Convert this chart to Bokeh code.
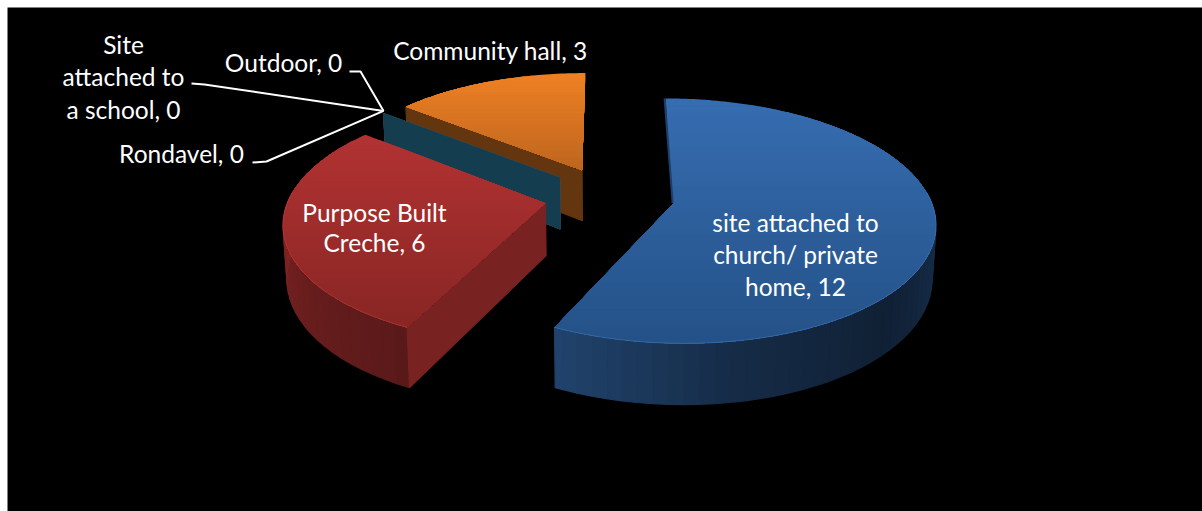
import math
import numpy as np
from bokeh.plotting import figure
from bokeh.models import Range1d
from bokeh.core.properties import value
from bokeh.embed import file_html
from bokeh.resources import INLINE

# ---- data ----
categories = ["site attached to church/ private home", "Purpose Built Creche",
              "Site attached to a school", "Outdoor", "Rondavel", "Community hall"]
values = [12, 6, 0, 0, 0, 3]
base_colors = [(54, 108, 176), (178, 50, 50), (120, 150, 60), (100, 75, 130), (20, 62, 80), (238, 128, 36)]
bottom_colors = [(36, 82, 136), (136, 38, 36), (90, 110, 45), (75, 55, 100), (20, 62, 80), (190, 102, 30)]
label_lines = [["site attached to", "church/ private", "home, 12"], ["Purpose Built", "Creche, 6"],
               ["Site", "attached to", "a school, 0"], ["Outdoor, 0"], ["Rondavel, 0"], ["Community hall, 3"]]

# ---- layout ----
W, H = 1202, 511
X0, Y0 = 609.0, 196.0      # screen position of pie centre
A, B, K = 256.0, 118.0, 1 / 7   # perspective scale
EXPLODE = 0.255
DEPTH = 52.0
LEAN = 0.012


def project(u, v):
    w = 1 + K * v
    return X0 + A * u / w, Y0 - B * v / w


def drop(x, y, v):
    w = 1 + K * v
    return x + (X0 - x) * LEAN, y + DEPTH / w


total = sum(values)
starts = np.cumsum([0] + values[:-1]) / total * 360
ends = np.cumsum(values) / total * 360


def rgb(c):
    return "#%02x%02x%02x" % tuple(int(max(0, min(255, round(a)))) for a in c)


def clip_below(pts, y0):
    """Keep the part of a polygon at screen y >= y0."""
    out = []
    n = len(pts)
    for i in range(n):
        a, b = pts[i], pts[(i + 1) % n]
        ina, inb = a[1] >= y0, b[1] >= y0
        if ina:
            out.append(a)
        if ina != inb:
            t = (y0 - a[1]) / (b[1] - a[1])
            out.append((a[0] + t * (b[0] - a[0]), y0))
    return out


def apex_of(i):
    mid = math.radians((starts[i] + ends[i]) / 2)
    return EXPLODE * math.sin(mid), EXPLODE * math.cos(mid)


def rim(i, th):
    au, av = apex_of(i)
    r = math.radians(th)
    return au + math.sin(r), av + math.cos(r)


p = figure(width=W, height=H, output_backend="svg", toolbar_location=None,
           x_range=Range1d(0, W), y_range=Range1d(H, 0),
           background_fill_color="white", border_fill_color="white",
           min_border=0, outline_line_color=None)
p.xaxis.visible = False
p.yaxis.visible = False
p.grid.visible = False

# dark panel
p.quad(left=[7], right=[W], top=[7], bottom=[H], fill_color="black", line_color=None)

rim_shades = {0: ([60, 100, 135, 170, 206], [0.62, 0.42, 0.30, 0.40, 0.62]),
              1: ([205, 240, 270], [0.50, 0.60, 0.72])}
radial_shade = {1: 0.68, 2: 0.8, 3: 0.8, 4: 1.0, 5: 0.42}


def draw_slice(i):
    base = np.array(base_colors[i], float)
    bot = np.array(bottom_colors[i], float)
    s, e = starts[i], ends[i]
    au, av = apex_of(i)
    ax, ay = project(au, av)
    xs, ys = [], []
    cols = []
    # outer rim wall
    if e > s:
        th = np.arange(s, e + 3, 3.0)
        th[-1] = e
        for a, b in zip(th[:-1], th[1:]):
            if math.cos(math.radians((a + b) / 2)) > 0.12:
                continue
            ua, va = rim(i, a)
            ub, vb = rim(i, b)
            x1, y1 = project(ua, va)
            x2, y2 = project(ub, vb)
            x3, y3 = drop(x2, y2, vb)
            x4, y4 = drop(x1, y1, va)
            xs.append([x1, x2, x3, x4])
            ys.append([y1, y2, y3, y4])
            if i in rim_shades:
                f = np.interp((a + b) / 2, *rim_shades[i])
            else:
                f = 0.5
            cols.append(rgb(base * f))
    # radial wall on the starting edge, when it faces the viewer
    if 180 < s < 360:
        u, v = rim(i, s)
        x1, y1 = project(u, v)
        bx, by = drop(ax, ay, av)
        cx, cy = drop(x1, y1, v)
        xs.append([ax, x1, cx, bx])
        ys.append([ay, y1, cy, by])
        cols.append(rgb(base * radial_shade[i]))
    if xs:
        p.patches(xs, ys, fill_color=cols, line_color=cols, line_width=1.2)
    if e <= s:
        return
    # top face, with vertical colour fall-off painted in bands
    th = np.arange(s, e + 1, 1.0)
    th[-1] = e
    poly = [(ax, ay)] + [project(*rim(i, t)) for t in th]
    ytop = min(q[1] for q in poly)
    ybot = max(q[1] for q in poly)
    n = 36
    bx, by, bc = [], [], []
    for k in range(n):
        y0 = ytop + (ybot - ytop) * k / n
        part = clip_below(poly, y0) if k else poly
        if len(part) < 3:
            continue
        bx.append([q[0] for q in part])
        by.append([q[1] for q in part])
        bc.append(rgb(base + (bot - base) * k / (n - 1)))
    p.patches(bx, by, fill_color=bc, line_color=None)
    # light edge along the front of the rim
    front = [t for t in th if math.cos(math.radians(t)) < 0.1]
    if front:
        pts = [project(*rim(i, t)) for t in front]
        p.line([q[0] for q in pts], [q[1] for q in pts],
               line_color=rgb(base * 0.98 + 12), line_width=1, line_alpha=0.6)


for i in [5, 2, 3, 4, 1, 0]:
    draw_slice(i)

# thin dark edge on the blue slice's first side
ax0, ay0 = project(*apex_of(0))
tx0, ty0 = project(*rim(0, starts[0]))
p.line([ax0 - 1, tx0 - 1], [ay0, ty0], line_color="#1d3f6b", line_width=2)

# leader lines for the three empty slices
leader_tip = project(*rim(4, starts[4]))
tipx, tipy = leader_tip[0], leader_tip[1] - 2.5
leader_x = [[349, 360, tipx], [191, 204, tipx], [252, 266, tipx]]
leader_y = [[71, 71, tipy], [83, 84, tipy], [162, 161, tipy]]
p.multi_line(leader_x, leader_y, line_color="white", line_width=2)

# labels
centres = {0: (795, [222, 254, 286]), 1: (374, [212, 242]), 2: (123, [44, 76, 109]),
           3: (283, [62]), 4: (181, [153]), 5: (490, [50])}
tx, ty, tt = [], [], []
for i, lines in enumerate(label_lines):
    cx, cy = centres[i]
    for line, yy in zip(lines, cy):
        tx.append(cx)
        ty.append(yy)
        tt.append(line)
p.text(tx, ty, text=tt, text_color="white", text_align="center", text_baseline="middle",
       text_font=value("Lato"), text_font_size="24.5px")

open("out.html", "w").write(file_html(p, INLINE))
